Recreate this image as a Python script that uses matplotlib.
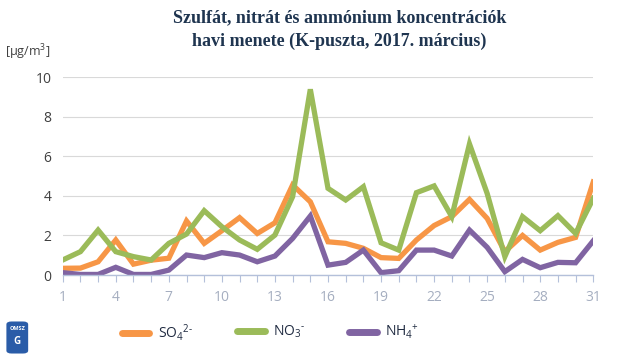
import matplotlib

matplotlib.use("Agg")
import matplotlib.pyplot as plt
from matplotlib.patches import FancyBboxPatch

days = list(range(1, 32))
so4 = [0.34, 0.35, 0.67, 1.77, 0.55, 0.75, 0.85, 2.73, 1.6, 2.24, 2.9, 2.1, 2.64, 4.55, 3.7,
       1.68, 1.6, 1.35, 0.88, 0.84, 1.77, 2.5, 2.95, 3.82, 2.86, 1.18, 2.0, 1.26, 1.65, 1.9, 4.7]
no3 = [0.76, 1.18, 2.27, 1.18, 0.93, 0.76, 1.6, 2.07, 3.25, 2.44, 1.77, 1.3, 2.02, 3.96, 9.38,
       4.38, 3.79, 4.46, 1.63, 1.26, 4.16, 4.5, 2.95, 6.62, 4.12, 0.93, 2.95, 2.24, 3.0, 2.1, 3.87]
nh4 = [0.12, 0.03, 0.03, 0.39, 0.03, 0.03, 0.25, 1.01, 0.88, 1.13, 1.01, 0.67, 0.96, 1.85, 2.98,
       0.5, 0.64, 1.26, 0.12, 0.22, 1.26, 1.26, 0.96, 2.27, 1.4, 0.17, 0.79, 0.37, 0.64, 0.62, 1.73]
series_labels = ["SO$_4$$^{2\\text{-}}$", "NO$_3$$^{\\text{-}}$", "NH$_4$$^{+}$"]
colors = ["#F79646", "#9BBB59", "#8064A2"]
xticks = list(range(1, 32, 3))
yticks = [0, 2, 4, 6, 8, 10]

plt.rcParams["font.family"] = ["Open Sans", "DejaVu Sans"]
plt.rcParams["mathtext.fontset"] = "custom"
plt.rcParams["mathtext.rm"] = "Open Sans"
plt.rcParams["mathtext.it"] = "Open Sans"

fig = plt.figure(figsize=(6.4, 3.6), dpi=100)
ax = fig.add_axes([0.098, 0.236, 0.829, 0.55])

lines = []
for vals, col, lab in zip([so4, no3, nh4], colors, series_labels):
    (ln,) = ax.plot(days, vals, color=col, lw=3.8, label=lab, solid_joinstyle="miter")
    lines.append(ln)

ax.set_xlim(1, 31)
ax.set_ylim(0, 10)
ax.set_yticks(yticks)
ax.set_xticks(days)
ax.set_xticklabels([str(d) if d in xticks else "" for d in days])
ax.grid(axis="y", color="#D9D9D9", lw=0.8)
ax.set_axisbelow(True)
for side in ["top", "right", "left"]:
    ax.spines[side].set_visible(False)
ax.spines["bottom"].set_color("#B4C0DA")
ax.spines["bottom"].set_linewidth(1.0)
ax.tick_params(axis="x", colors="#B4C0DA", length=5, width=0.8, labelcolor="#A5AEC0", labelsize=10, pad=6)
ax.tick_params(axis="y", length=0, labelcolor="#404040", labelsize=10, pad=8)

title_font = ["Liberation Serif", "DejaVu Serif"]
fig.text(0.53, 0.952, "Szulfát, nitrát és ammónium koncentrációk", ha="center", va="center",
         fontsize=13, fontweight="bold", color="#1F3550", family=title_font)
fig.text(0.53, 0.884, "havi menete (K-puszta, 2017. március)", ha="center", va="center",
         fontsize=13, fontweight="bold", color="#1F3550", family=title_font)
fig.text(0.008, 0.855, "[µg/m$^3$]", ha="left", va="center", fontsize=9, color="#404040")

# one legend entry per series, placed like the original footer
for ln, x0 in zip(lines, [0.19, 0.37, 0.545]):
    leg = fig.legend(handles=[ln], loc="center left", bbox_to_anchor=(x0, 0.077), frameon=False,
                     fontsize=10, handlelength=2.0, handletextpad=0.6, borderpad=0, borderaxespad=0)
    leg.get_texts()[0].set_color("#1F2A40")
    h = leg.legend_handles[0]
    h.set_linewidth(5)
    h.set_solid_capstyle("round")

# small OMSZ logo badge
logo = FancyBboxPatch((0.012, 0.02), 0.03, 0.085, boxstyle="round,pad=0.002,rounding_size=0.008",
                      transform=fig.transFigure, facecolor="#2A5CA8", edgecolor="none")
fig.patches.append(logo)
fig.text(0.027, 0.088, "OMSZ", ha="center", va="center", fontsize=4, color="white", fontweight="bold")
fig.text(0.027, 0.05, "G", ha="center", va="center", fontsize=7, color="white", fontweight="bold")

fig.savefig("out.png", dpi=100)
